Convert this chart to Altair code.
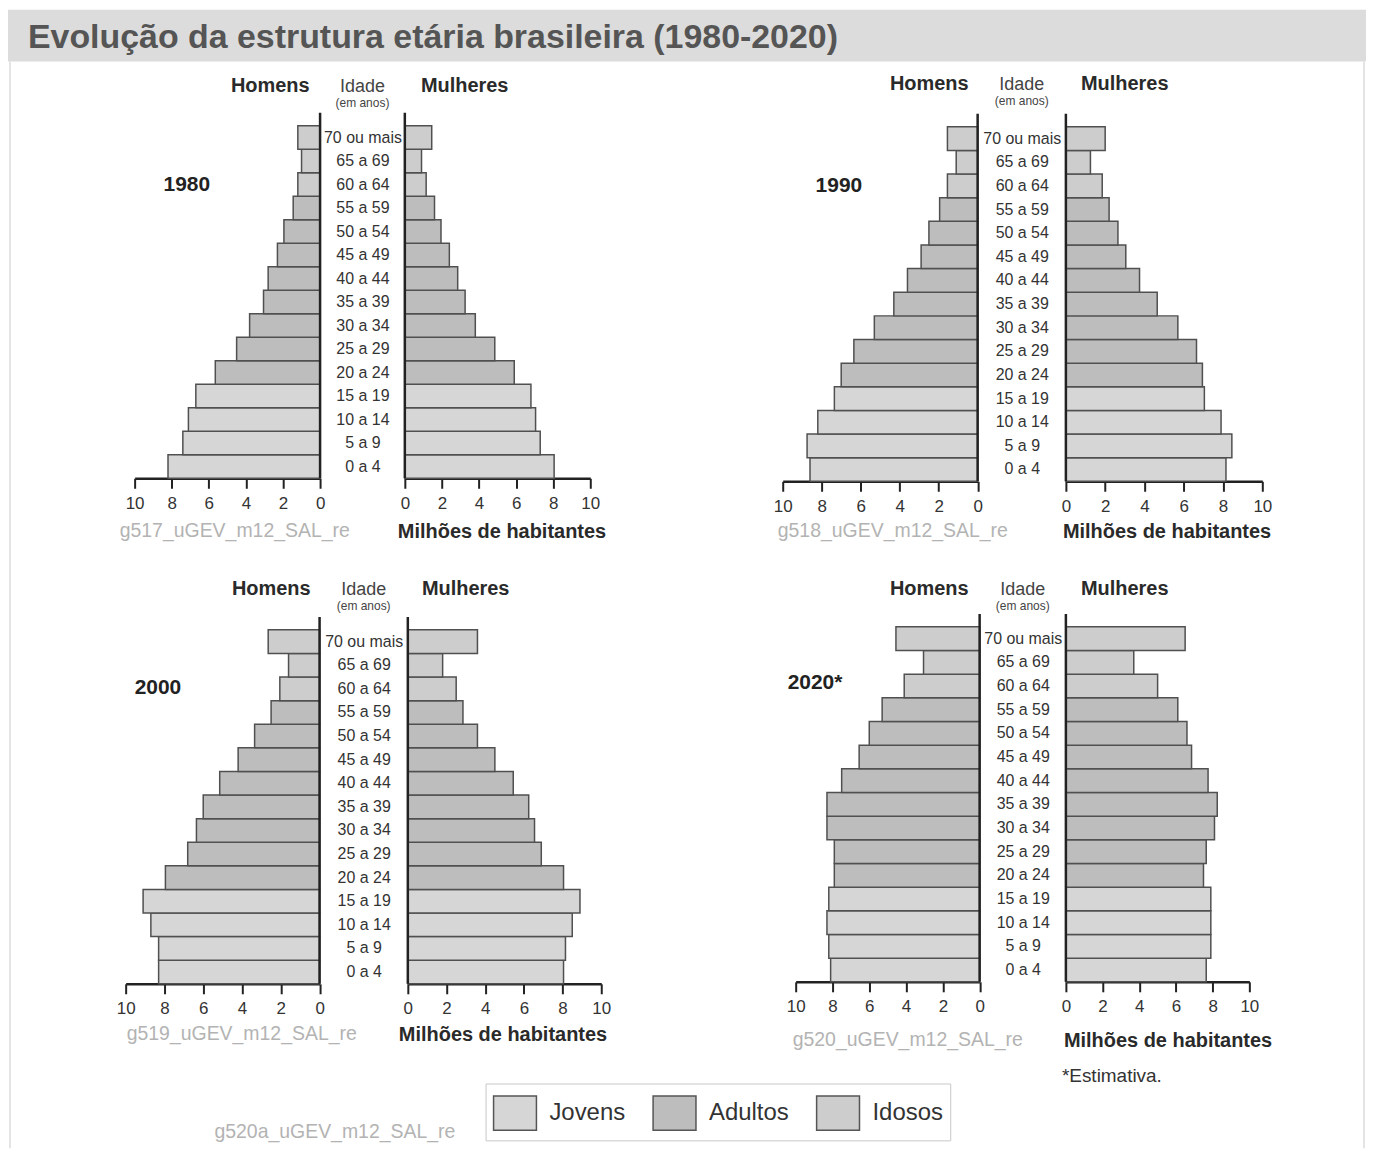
import altair as alt
import pandas as pd

# ---------------- data ----------------
idades = ['0 a 4', '5 a 9', '10 a 14', '15 a 19', '20 a 24', '25 a 29', '30 a 34',
          '35 a 39', '40 a 44', '45 a 49', '50 a 54', '55 a 59', '60 a 64', '65 a 69',
          '70 ou mais']
grupos = ['Jovens'] * 4 + ['Adultos'] * 8 + ['Idosos'] * 3
categorias = ['Jovens', 'Adultos', 'Idosos']
cores = ['#d6d6d6', '#bdbdbd', '#cdcdcd']
ticks = [0, 2, 4, 6, 8, 10]

homens_1980 = [8.2, 7.4, 7.1, 6.7, 5.65, 4.5, 3.8, 3.05, 2.8, 2.3, 1.95, 1.45, 1.2, 1.0, 1.2]
mulheres_1980 = [8.05, 7.3, 7.05, 6.8, 5.9, 4.85, 3.8, 3.25, 2.85, 2.4, 1.95, 1.6, 1.15, 0.9, 1.45]
homens_1990 = [8.6, 8.75, 8.2, 7.35, 7.0, 6.35, 5.3, 4.3, 3.6, 2.9, 2.5, 1.95, 1.55, 1.1, 1.55]
mulheres_1990 = [8.15, 8.45, 7.9, 7.05, 6.95, 6.65, 5.7, 4.65, 3.75, 3.05, 2.65, 2.2, 1.85, 1.25, 2.0]
homens_2000 = [8.3, 8.3, 8.7, 9.1, 7.95, 6.8, 6.35, 6.0, 5.15, 4.2, 3.35, 2.5, 2.05, 1.6, 2.65]
mulheres_2000 = [8.05, 8.15, 8.5, 8.9, 8.05, 6.9, 6.55, 6.25, 5.45, 4.5, 3.6, 2.85, 2.5, 1.8, 3.6]
homens_2020 = [8.1, 8.2, 8.3, 8.2, 7.9, 7.9, 8.3, 8.3, 7.5, 6.55, 6.0, 5.3, 4.1, 3.05, 4.55]
mulheres_2020 = [7.65, 7.9, 7.9, 7.9, 7.5, 7.65, 8.1, 8.25, 7.75, 6.85, 6.6, 6.1, 5.0, 3.7, 6.5]

anos = ['1980', '1990', '2000', '2020*']
codigos = ['g517_uGEV_m12_SAL_re', 'g518_uGEV_m12_SAL_re',
           'g519_uGEV_m12_SAL_re', 'g520_uGEV_m12_SAL_re']
titulo = 'Evolução da estrutura etária brasileira (1980-2020)'

# ---------------- layout (view pixels) ----------------
W, H = 1362, 1142
REG = "'Liberation Sans', Arial, sans-serif"
DARK = '#2a2a2a'

# per panel: left x0, left x10, right x0, right x10, top, bottom,
#            header baseline, year (x, baseline), code x, milhoes x, bottom text baseline
paineis = [
    dict(h=homens_1980, m=mulheres_1980, lx0=313, lx10=127, rx0=398, rx10=584, top=116.5, bot=470,
         hb=83, homx=263, mulx=458, ano=(156, 182), cod=112, mil=391, tb=530),
    dict(h=homens_1990, m=mulheres_1990, lx0=972.5, lx10=777, rx0=1061, rx10=1258, top=117.5, bot=473,
         hb=81, homx=924, mulx=1120, ano=(810, 182.5), cod=772, mil=1058, tb=530),
    dict(h=homens_2000, m=mulheres_2000, lx0=312.5, lx10=118, rx0=401, rx10=595, top=622, bot=977,
         hb=587, homx=264, mulx=459, ano=(127, 686), cod=119, mil=392, tb=1034),
    dict(h=homens_2020, m=mulheres_2020, lx0=974.5, lx10=790, rx0=1061, rx10=1245, top=619, bot=975,
         hb=587, homx=924, mulx=1120, ano=(782, 681), cod=787, mil=1059, tb=1040),
]

ordem = list(reversed(idades))
um = pd.DataFrame({'a': [0]})

cor = alt.Color(
    'grupo:N',
    scale=alt.Scale(domain=categorias, range=cores),
    legend=alt.Legend(
        orient='none', legendX=479, legendY=1077, direction='horizontal', columns=3,
        title=None, symbolType='M-1,-0.8H1V0.8H-1Z', symbolSize=1849,
        symbolStrokeColor='#555555', symbolStrokeWidth=1.5, symbolOpacity=1,
        labelFont=REG, labelFontSize=24, labelColor='#333333', labelOffset=12,
        columnPadding=24, padding=7, strokeColor='#c8c8c8', fillColor='#ffffff',
        labelLimit=300,
    ),
)


def barras(valores, x0, x10, top, bot, y_axis):
    df = pd.DataFrame({'idade': idades, 'valor': valores, 'grupo': grupos})
    return alt.Chart(df).mark_bar(stroke='#505050', strokeWidth=1.5).encode(
        x=alt.X('valor:Q',
                scale=alt.Scale(domain=[0, 10], range=[x0, x10], nice=False, zero=True),
                axis=alt.Axis(orient='bottom', offset=bot - H, values=ticks, format='d',
                              labelFlush=False, labelFont=REG, labelFontSize=17,
                              labelColor='#333333', labelPadding=7, tickSize=10, tickWidth=2,
                              tickColor='#222222', domainColor='#222222', domainWidth=2.5,
                              grid=False, title=None, labelOverlap=False)),
        y=alt.Y('idade:N',
                scale=alt.Scale(domain=ordem, range=[top, bot], paddingInner=0, paddingOuter=0),
                axis=y_axis),
        color=cor,
    )


def texto(t, x, y, font=REG, size=20, weight='normal', color=DARK, align='left'):
    return alt.Chart(um).mark_text(
        text=t, font=font, fontSize=size, fontWeight=weight, color=color,
        align=align, baseline='alphabetic',
    ).encode(x=alt.value(x), y=alt.value(y))


def regua(x, y1, y2, color='#222222', width=2.5):
    return alt.Chart(um).mark_rule(color=color, strokeWidth=width).encode(
        x=alt.value(x), y=alt.value(y1), y2=alt.value(y2))


camadas = []
# title band
camadas.append(alt.Chart(um).mark_rect(color='#dcdcdc').encode(
    x=alt.value(0), x2=alt.value(W), y=alt.value(0), y2=alt.value(52)))
camadas.append(texto(titulo, 20, 38, font=REG, size=34, weight='bold', color='#555555'))
# faint frame lines
camadas.append(regua(2, 52, H, color='#e4e4e4', width=2))
camadas.append(regua(W - 2, 52, H, color='#e4e4e4', width=2))

for i, p in enumerate(paineis):
    meio = (p['lx0'] + p['rx0']) / 2
    pad = (p['rx0'] - p['lx0']) / 2
    eixo_idade = alt.Axis(orient='left', offset=-p['rx0'], ticks=False, tickSize=0, domain=False,
                          labelAlign='center', labelBaseline='middle', labelPadding=pad,
                          labelFont=REG, labelFontSize=16, labelColor='#333333',
                          labelOverlap=False, grid=False, title=None)
    camadas.append(barras(p['h'], p['lx0'], p['lx10'], p['top'], p['bot'], None))
    camadas.append(barras(p['m'], p['rx0'], p['rx10'], p['top'], p['bot'], eixo_idade))
    camadas.append(regua(p['lx0'], p['top'] - 13, p['bot']))
    camadas.append(regua(p['rx0'], p['top'] - 13, p['bot']))
    camadas.append(texto('Homens', p['homx'], p['hb'], size=20, weight='bold', align='center'))
    camadas.append(texto('Mulheres', p['mulx'], p['hb'], size=20, weight='bold', align='center'))
    camadas.append(texto('Idade', meio, p['hb'], font=REG, size=18, color='#444444', align='center'))
    camadas.append(texto('(em anos)', meio, p['hb'] + 15, font=REG, size=12, color='#444444', align='center'))
    camadas.append(texto(anos[i], p['ano'][0], p['ano'][1], size=21, weight='bold', color='#222222'))
    camadas.append(texto(codigos[i], p['cod'], p['tb'] - 1, size=19.5, color='#b3b3b3'))
    camadas.append(texto('Milhões de habitantes', p['mil'], p['tb'], size=20, weight='bold'))

camadas.append(texto('*Estimativa.', 1057, 1075, font=REG, size=19, color='#333333'))
camadas.append(texto('g520a_uGEV_m12_SAL_re', 207, 1132, size=19.5, color='#b3b3b3'))

chart = alt.layer(*camadas).resolve_scale(
    x='independent', y='independent'
).resolve_axis(
    x='independent', y='independent'
).properties(
    width=W, height=H, padding=0
).configure_view(strokeWidth=0)

chart.save("out.html", embed_options={"renderer": "svg", "actions": False})
